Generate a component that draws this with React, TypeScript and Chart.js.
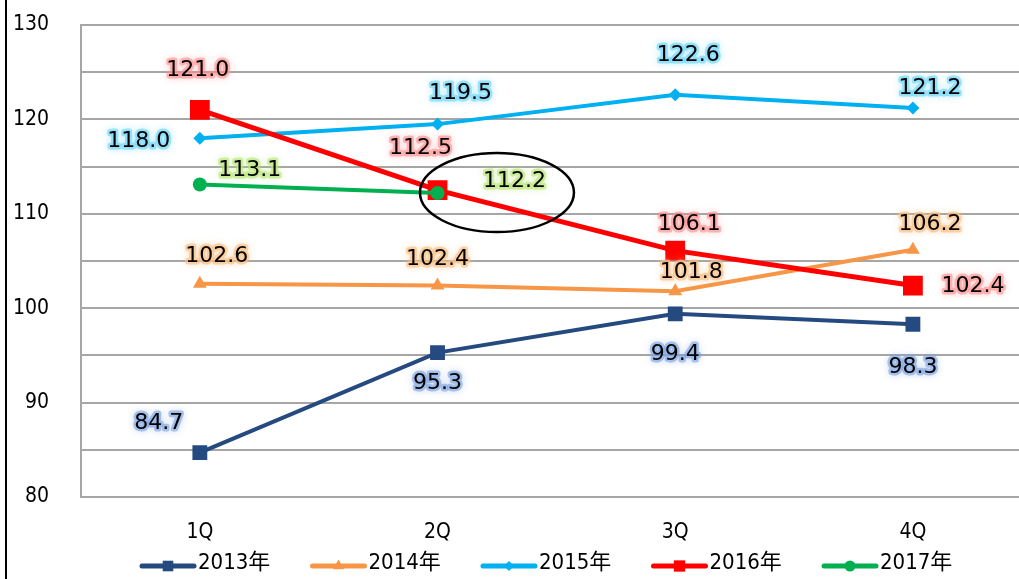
import React, { useEffect, useRef } from "react";
import { Chart, registerables } from "chart.js";

Chart.register(...registerables);

// ---------- data ----------
const CATEGORIES = ["1Q", "2Q", "3Q", "4Q"];
const SERIES_NAMES = ["2013年", "2014年", "2015年", "2016年", "2017年"];
const VALUES_2013 = [84.7, 95.3, 99.4, 98.3];
const VALUES_2014 = [102.6, 102.4, 101.8, 106.2];
const VALUES_2015 = [118.0, 119.5, 122.6, 121.2];
const VALUES_2016 = [121.0, 112.5, 106.1, 102.4];
const VALUES_2017: (number | null)[] = [113.1, 112.2, null, null];
const Y_MIN = 80;
const Y_MAX = 130;
const Y_LABEL_STEP = 10;
const Y_GRID_STEP = 5;

// ---------- styles ----------
const SERIES_VALUES = [VALUES_2013, VALUES_2014, VALUES_2015, VALUES_2016, VALUES_2017];
const COLORS = ["#254A80", "#F79646", "#00B0F0", "#FF0000", "#00B050"];
const GLOWS = [
  "rgba(120,160,225,0.6)",
  "rgba(250,190,130,0.65)",
  "rgba(110,215,250,0.65)",
  "rgba(255,140,140,0.6)",
  "rgba(185,230,120,0.65)",
];
const POINT_STYLES = ["rect", "triangle", "rectRot", "rect", "circle"];
const POINT_RADII = [10.5, 8, 6.5, 14, 7];
const LINE_WIDTHS = [4, 4, 4, 5, 4];
// label offsets (px) relative to each point
const LABEL_OFFSETS: number[][][] = [
  [[-41, -29], [0, 31], [0, 40], [0, 43]],
  [[17, -27], [0, -26], [16, -19], [17, -25]],
  [[-61, 3], [23, -31], [13, -40], [17, -20]],
  [[-2, -40], [-17, -42], [14, -26], [60, 1]],
  [[50, -14], [77, -12], [0, 0], [0, 0]],
];
const AXIS_FAMILY = "'DejaVu Sans Condensed', 'Liberation Sans', 'Noto Sans CJK JP', sans-serif";
const LABEL_FONT = "22px 'DejaVu Sans', Verdana, sans-serif";
const GRID = "#A6A6A6";

const CW = 1060;
const CH = 579;
const TOP_PAD = 25;

function drawMarker(ctx: CanvasRenderingContext2D, style: string, x: number, y: number, r: number, color: string) {
  ctx.save();
  ctx.fillStyle = color;
  ctx.beginPath();
  if (style === "rect") {
    const s = Math.SQRT1_2 * r;
    ctx.rect(x - s, y - s, 2 * s, 2 * s);
  } else if (style === "triangle") {
    ctx.moveTo(x, y - r);
    ctx.lineTo(x + r * 0.866, y + r * 0.5);
    ctx.lineTo(x - r * 0.866, y + r * 0.5);
    ctx.closePath();
  } else if (style === "rectRot") {
    ctx.moveTo(x, y - r);
    ctx.lineTo(x + r, y);
    ctx.lineTo(x, y + r);
    ctx.lineTo(x - r, y);
    ctx.closePath();
  } else {
    ctx.arc(x, y, r, 0, Math.PI * 2);
  }
  ctx.fill();
  ctx.restore();
}

const decorPlugin = {
  id: "decor",
  afterDatasetsDraw(chart: any) {
    const ctx: CanvasRenderingContext2D = chart.ctx;
    const xs = chart.scales.x;
    const ys = chart.scales.y;

    // annotation ellipse
    const p1 = xs.getPixelForValue(1);
    const p2 = xs.getPixelForValue(2);
    ctx.save();
    ctx.beginPath();
    ctx.ellipse(p1 + 0.25 * (p2 - p1), ys.getPixelForValue(112.25), 77, 39.5, 0, 0, Math.PI * 2);
    ctx.lineWidth = 2.5;
    ctx.strokeStyle = "#000";
    ctx.stroke();
    ctx.restore();

    // data labels with glow
    ctx.save();
    ctx.font = LABEL_FONT;
    ctx.textAlign = "center";
    ctx.textBaseline = "middle";
    ctx.lineJoin = "round";
    SERIES_VALUES.forEach((vals, i) => {
      const meta = chart.getDatasetMeta(i);
      vals.forEach((v, j) => {
        if (v === null || v === undefined) return;
        const el = meta.data[j];
        const [dx, dy] = LABEL_OFFSETS[i][j];
        const x = el.x + dx;
        const y = el.y + dy;
        const t = (v as number).toFixed(1);
        ctx.save();
        ctx.shadowColor = GLOWS[i];
        ctx.shadowBlur = 7;
        ctx.strokeStyle = GLOWS[i];
        ctx.lineWidth = 5;
        ctx.strokeText(t, x, y);
        ctx.restore();
        ctx.fillStyle = "#000";
        ctx.fillText(t, x, y);
      });
    });
    ctx.restore();

    // legend
    ctx.save();
    ctx.font = `22px ${AXIS_FAMILY}`;
    ctx.textAlign = "left";
    ctx.textBaseline = "middle";
    const lx0 = 140;
    const step = 170.5;
    const ly = 566;
    SERIES_NAMES.forEach((name, i) => {
      const x = lx0 + i * step;
      ctx.strokeStyle = COLORS[i];
      ctx.lineWidth = 5;
      ctx.lineCap = "round";
      ctx.beginPath();
      ctx.moveTo(x + 2, ly);
      ctx.lineTo(x + 54, ly);
      ctx.stroke();
      const legR = [7.5, 6.5, 5, 8, 5.5][i];
      drawMarker(ctx, POINT_STYLES[i], x + 28, ly, legR, COLORS[i]);
      ctx.fillStyle = "#000";
      ctx.fillText(name, x + 58, ly - 3);
    });
    ctx.restore();

    // outer chart border (left)
    ctx.save();
    ctx.fillStyle = "#000";
    ctx.fillRect(5, 0, 2, CH);
    ctx.restore();
  },
};

export default function App() {
  const ref = useRef<HTMLCanvasElement>(null);
  useEffect(() => {
    if (!ref.current) return;
    const chart = new Chart(ref.current, {
      type: "line",
      data: {
        labels: CATEGORIES,
        datasets: SERIES_VALUES.map((vals, i) => ({
          label: SERIES_NAMES[i],
          data: vals,
          borderColor: COLORS[i],
          backgroundColor: COLORS[i],
          borderWidth: LINE_WIDTHS[i],
          pointStyle: POINT_STYLES[i] as any,
          pointRadius: POINT_RADII[i],
          pointHoverRadius: POINT_RADII[i],
          pointBorderWidth: 0,
          pointBackgroundColor: COLORS[i],
          tension: 0,
          spanGaps: false,
          order: SERIES_VALUES.length - i,
          fill: false,
        })),
      },
      options: {
        animation: false,
        responsive: false,
        devicePixelRatio: 1,
        events: [],
        layout: { padding: { left: 0, top: TOP_PAD, right: CW - 1031.75, bottom: 0 } },
        plugins: {
          legend: { display: false },
          title: { display: false },
          tooltip: { enabled: false },
        },
        scales: {
          x: {
            type: "category",
            offset: true,
            grid: { display: false, drawTicks: false },
            border: { display: true, color: GRID, width: 2 },
            ticks: { color: "#000", font: { family: AXIS_FAMILY, size: 21 }, padding: 23, maxRotation: 0 },
            afterFit: (s: any) => {
              s.height = CH - 497;
              s.paddingLeft = 0;
              s.paddingRight = 0;
            },
          },
          y: {
            min: Y_MIN,
            max: Y_MAX,
            grid: { color: GRID, lineWidth: 2, drawTicks: false },
            border: { display: true, color: GRID, width: 2 },
            ticks: {
              stepSize: Y_GRID_STEP,
              autoSkip: false,
              color: "#000",
              font: { family: AXIS_FAMILY, size: 21 },
              padding: 32,
              callback: (v: any) => (Number(v) % Y_LABEL_STEP === 0 ? String(v) : ""),
            },
            afterFit: (s: any) => {
              s.width = 81;
              s.paddingTop = 0;
              s.paddingBottom = 0;
            },
          },
        },
      },
      plugins: [decorPlugin],
    } as any);
    return () => chart.destroy();
  }, []);

  return (
    <div
      style={{
        position: "fixed",
        left: 0,
        top: 0,
        width: 1019,
        height: 579,
        overflow: "hidden",
        background: "#fff",
      }}
    >
      <canvas ref={ref} width={CW} height={CH} style={{ display: "block", width: CW, height: CH }} />
    </div>
  );
}
